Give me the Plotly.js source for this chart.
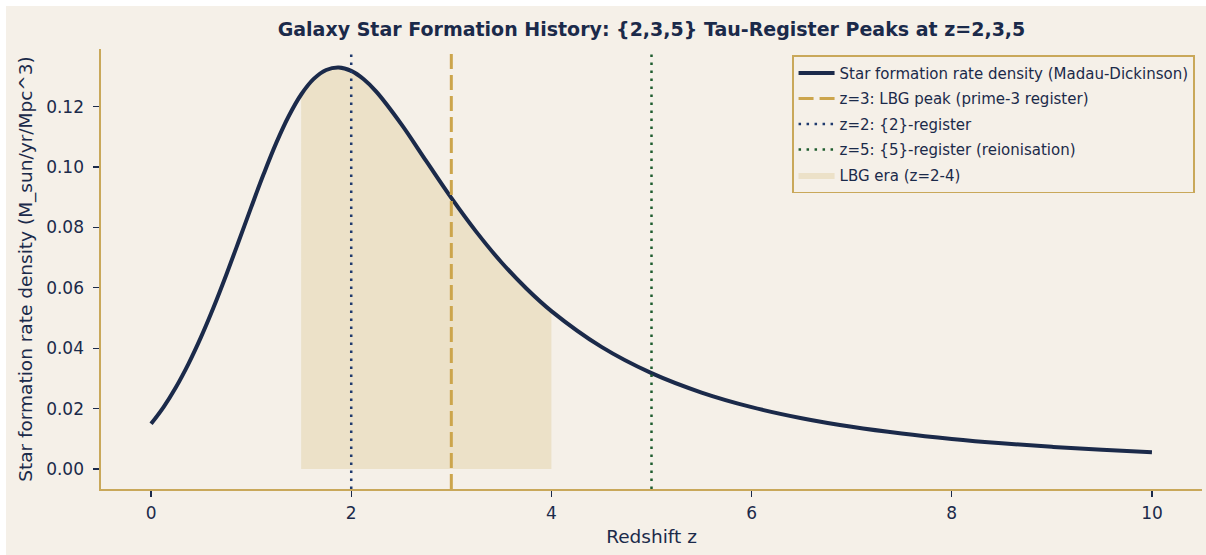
<!DOCTYPE html>
<html>
<head>
<meta charset="utf-8">
<script src="https://cdn.plot.ly/plotly-3.0.1.min.js"></script>
<style>
  html, body { margin: 0; padding: 0; background: #ffffff; }
  #chart { position: absolute; left: 6px; top: 6px; width: 1200px; height: 549px; }
</style>
</head>
<body>
<div id="chart"></div>
<script>
// Redshift samples and star formation rate density
const redshift = [0, 0.125, 0.25, 0.375, 0.5, 0.625, 0.75, 0.875, 1, 1.125, 1.25, 1.375, 1.5, 1.625,
                  1.75, 1.875, 2, 2.125, 2.25, 2.5, 2.75, 3, 3.25, 3.5, 3.75, 4,
                  4.5, 5, 5.5, 6, 6.5, 7, 7.5, 8, 8.5, 9, 9.5, 10];
const sfrd = [0.01496, 0.02051, 0.02716, 0.03491, 0.04374, 0.05355, 0.06417, 0.07533, 0.08665,
              0.09767, 0.10792, 0.11683, 0.12403, 0.12919, 0.13215, 0.13298, 0.13186, 0.12908,
              0.12499, 0.11423, 0.10195, 0.08978, 0.07853, 0.06848, 0.05978, 0.05229,
              0.04043, 0.03174, 0.02532, 0.02049, 0.01682, 0.01397, 0.01173, 0.00995,
              0.00851, 0.00733, 0.00637, 0.00556];

// LBG era shaded region (under the curve)
const lbgZ = [1.5, 1.625, 1.75, 1.875, 2, 2.125, 2.25, 2.5, 2.75, 3, 3.25, 3.5, 3.75, 4];
const lbgSfrd = [0.12403, 0.12919, 0.13215, 0.13298, 0.13186, 0.12908, 0.12499, 0.11423,
                 0.10195, 0.08978, 0.07853, 0.06848, 0.05978, 0.05229];

// Vertical marker redshifts
const zLBG = 3, zTwo = 2, zFive = 5;
const yRange = [-0.00663, 0.1391];

const xTicks = [0, 2, 4, 6, 8, 10];
const yTicks = [0.00, 0.02, 0.04, 0.06, 0.08, 0.10, 0.12];

const navy = '#1b2a4a';
const gold = '#c9a85a';
const cream = '#f5f0e8';
const font = 'DejaVu Sans, sans-serif';

const traces = [
  {
    x: lbgZ, y: lbgSfrd, type: 'scatter', mode: 'lines',
    fill: 'tozeroy', fillcolor: 'rgba(201,165,76,0.2)',
    line: {width: 0, color: 'rgba(201,165,76,0.2)', shape: 'spline'},
    name: 'LBG era (z=2-4)', legendrank: 5, legendgroup: 'e'
  },
  {
    x: redshift, y: sfrd, type: 'scatter', mode: 'lines',
    line: {color: navy, width: 4, shape: 'spline', smoothing: 1},
    name: 'Star formation rate density (Madau-Dickinson)', legendrank: 1, legendgroup: 'a'
  },
  {
    x: [zLBG, zLBG], y: yRange, type: 'scatter', mode: 'lines',
    line: {color: '#cca54c', width: 3, dash: '15px,6px'},
    name: 'z=3: LBG peak (prime-3 register)', legendrank: 2, legendgroup: 'b'
  },
  {
    x: [zTwo, zTwo], y: yRange, type: 'scatter', mode: 'lines',
    line: {color: '#1f3a6e', width: 2.5, dash: '2.5px,5.5px'},
    name: 'z=2: {2}-register', legendrank: 3, legendgroup: 'c'
  },
  {
    x: [zFive, zFive], y: yRange, type: 'scatter', mode: 'lines',
    line: {color: '#1e5c2e', width: 2.5, dash: '2.5px,5.5px'},
    name: 'z=5: {5}-register (reionisation)', legendrank: 4, legendgroup: 'd'
  }
];

const layout = {
  width: 1200, height: 549,
  paper_bgcolor: cream, plot_bgcolor: cream,
  margin: {l: 95, r: 4, t: 43, b: 66},
  font: {family: font, color: navy, size: 17},
  title: {
    text: '<b>Galaxy Star Formation History: {2,3,5} Tau-Register Peaks at z=2,3,5</b>',
    font: {family: font, size: 19, color: navy},
    x: 0.5, xref: 'paper', xanchor: 'center', y: 0.958, yref: 'container',
    yanchor: 'middle', pad: {t: 0}
  },
  xaxis: {
    range: [-0.5, 10.5], tickvals: xTicks, ticktext: xTicks.map(String),
    showgrid: false, zeroline: false,
    showline: true, linecolor: gold, linewidth: 1.6,
    ticks: 'outside', ticklen: 6, tickwidth: 1.2, tickcolor: navy,
    ticklabelstandoff: 2,
    tickfont: {size: 17, color: navy, family: font},
    title: {text: 'Redshift z', font: {size: 18.5, color: navy, family: font}, standoff: 8}
  },
  yaxis: {
    range: yRange, tickvals: yTicks, ticktext: yTicks.map(v => v.toFixed(2)),
    showgrid: false, zeroline: false,
    showline: true, linecolor: gold, linewidth: 1.6,
    ticks: 'outside', ticklen: 6, tickwidth: 1.2, tickcolor: navy,
    ticklabelstandoff: 6,
    tickfont: {size: 17, color: navy, family: font},
    title: {text: 'Star formation rate density (M_sun/yr/Mpc^3)', font: {size: 18.5, color: navy, family: font}, standoff: 8}
  },
  showlegend: true,
  legend: {
    x: 0.9936, xanchor: 'right', y: 0.986, yanchor: 'top',
    bgcolor: cream, bordercolor: gold, borderwidth: 1.6,
    font: {size: 15, color: navy, family: font},
    traceorder: 'grouped', tracegroupgap: 3, itemwidth: 36
  }
};

Plotly.newPlot('chart', traces, layout, {displayModeBar: false, staticPlot: true});
</script>
</body>
</html>
